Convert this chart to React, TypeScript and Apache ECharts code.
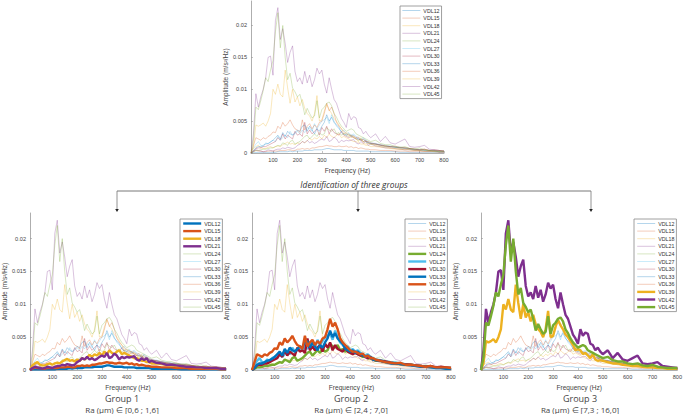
import React, { useEffect, useRef } from 'react';
import * as echarts from 'echarts';

// frequency grid (Hz): 10 Hz steps to 500, 20 Hz steps after
const freqs = [
  10, 20, 30, 40, 50, 60, 70, 80, 90, 100,
  110, 120, 130, 140, 150, 160, 170, 180, 190, 200,
  210, 220, 230, 240, 250, 260, 270, 280, 290, 300,
  310, 320, 330, 340, 350, 360, 370, 380, 390, 400,
  410, 420, 430, 440, 450, 460, 470, 480, 490, 500,
  520, 540, 560, 580, 600, 620, 640, 660, 680, 700, 720, 740, 760, 780, 800,
];

// amplitudes in 1e-4 m/s2/Hz
const vdl12 = [
  0, 1, 1, 1, 1, 1, 1, 1, 1, 1,
  1, 2, 2, 2, 2, 2, 3, 2, 3, 3,
  3, 3, 4, 4, 4, 4, 5, 5, 5, 5,
  6, 7, 7, 6, 5, 5, 5, 5, 4, 4,
  4, 4, 4, 3, 3, 3, 3, 3, 3, 2,
  2, 2, 2, 2, 2, 1, 1, 1, 1, 1, 1, 1, 1, 1, 1,
];
const vdl15 = [
  0, 2, 4, 3, 3, 2, 2, 3, 3, 3,
  3, 3, 4, 4, 4, 5, 5, 4, 4, 6,
  6, 7, 6, 7, 6, 8, 8, 9, 10, 10,
  11, 12, 11, 11, 10, 10, 11, 10, 10, 11,
  9, 10, 8, 9, 7, 8, 7, 6, 6, 5,
  5, 4, 4, 4, 3, 3, 3, 2, 2, 2, 2, 2, 2, 1, 1,
];
const vdl18 = [
  0, 7, 10, 12, 8, 7, 7, 9, 10, 8,
  10, 11, 10, 13, 15, 17, 14, 15, 13, 16,
  14, 18, 16, 19, 23, 20, 24, 22, 26, 22,
  28, 24, 30, 26, 24, 28, 30, 24, 26, 24,
  22, 20, 18, 18, 16, 14, 14, 12, 12, 10,
  10, 9, 8, 7, 6, 6, 5, 5, 4, 4, 3, 3, 3, 2, 2,
];
const vdl21 = [
  0, 3, 5, 4, 3, 2, 3, 5, 4, 3,
  5, 6, 6, 8, 7, 9, 8, 7, 8, 12,
  14, 18, 16, 20, 16, 18, 15, 17, 20, 22,
  20, 26, 18, 20, 25, 22, 16, 20, 18, 20,
  19, 20, 21, 16, 14, 18, 15, 18, 12, 14,
  11, 10, 8, 8, 7, 6, 5, 5, 4, 4, 3, 3, 3, 2, 2,
];
const vdl24 = [
  0, 2, 4, 4, 5, 6, 6, 7, 8, 8,
  10, 12, 11, 16, 14, 12, 18, 20, 14, 16,
  18, 22, 26, 28, 22, 26, 30, 26, 32, 28,
  30, 40, 36, 34, 38, 30, 32, 28, 30, 28,
  26, 28, 24, 22, 20, 22, 18, 18, 16, 14,
  14, 12, 11, 10, 9, 8, 8, 7, 6, 5, 5, 4, 4, 3, 3,
];
const vdl27 = [
  0, 8, 14, 18, 12, 10, 16, 14, 18, 20,
  18, 26, 20, 24, 28, 24, 34, 28, 30, 34,
  30, 36, 32, 40, 38, 34, 46, 38, 44, 50,
  52, 56, 46, 60, 50, 42, 38, 34, 36, 30,
  32, 28, 30, 26, 24, 22, 24, 20, 18, 16,
  15, 13, 12, 11, 10, 9, 8, 7, 6, 5, 5, 4, 4, 3, 3,
];
const vdl30 = [
  0, 3, 7, 8, 8, 10, 10, 12, 14, 16,
  18, 24, 20, 30, 22, 28, 25, 22, 34, 28,
  30, 26, 48, 30, 36, 30, 34, 38, 28, 40,
  34, 42, 30, 38, 32, 30, 28, 34, 28, 26,
  24, 26, 24, 22, 22, 20, 18, 20, 16, 15,
  14, 13, 11, 10, 9, 9, 8, 7, 6, 5, 6, 4, 5, 4, 3,
];
const vdl33 = [
  0, 3, 8, 10, 10, 12, 14, 15, 17, 20,
  24, 28, 22, 32, 26, 34, 30, 28, 32, 36,
  34, 42, 44, 34, 42, 36, 30, 38, 34, 42,
  48, 60, 50, 56, 48, 44, 40, 32, 30, 28,
  30, 26, 28, 24, 22, 20, 22, 18, 16, 15,
  14, 12, 10, 10, 9, 8, 7, 6, 5, 5, 4, 3, 3, 2, 2,
];
const vdl36 = [
  0, 12, 24, 22, 20, 24, 22, 26, 28, 33,
  32, 42, 38, 48, 42, 46, 52, 44, 38, 36,
  32, 52, 36, 42, 46, 38, 44, 40, 48, 50,
  62, 78, 66, 72, 62, 48, 42, 38, 34, 30,
  28, 28, 26, 24, 25, 20, 22, 18, 18, 16,
  14, 12, 11, 10, 11, 8, 8, 7, 6, 5, 6, 4, 4, 4, 3,
];
const vdl39 = [
  0, 10, 44, 42, 44, 47, 42, 50, 62, 100,
  92, 108, 92, 88, 130, 102, 78, 100, 80, 88,
  74, 84, 70, 62, 58, 50, 62, 90, 50, 52,
  66, 76, 68, 62, 54, 50, 44, 38, 30, 32,
  30, 24, 26, 22, 18, 24, 16, 14, 15, 14,
  12, 10, 10, 8, 7, 6, 6, 5, 4, 4, 3, 3, 2, 2, 2,
];
const vdl42 = [
  0, 30, 93, 72, 88, 100, 118, 150, 152, 122,
  208, 228, 178, 195, 172, 142, 158, 168, 128, 112,
  118, 108, 128, 110, 122, 104, 115, 133, 124, 130,
  108, 94, 118, 100, 84, 78, 66, 54, 48, 40,
  62, 52, 57, 55, 40, 38, 30, 34, 28, 24,
  30, 18, 26, 16, 14, 18, 22, 10, 9, 10, 12, 6, 5, 4, 3,
];
const vdl45 = [
  0, 20, 72, 68, 82, 98, 118, 112, 130, 145,
  190, 220, 165, 200, 150, 115, 125, 102, 96, 88,
  92, 78, 60, 70, 62, 55, 58, 82, 55, 68,
  72, 78, 80, 74, 62, 56, 48, 42, 38, 34,
  36, 38, 36, 30, 28, 26, 24, 22, 20, 18,
  20, 15, 13, 13, 10, 9, 10, 7, 6, 8, 5, 4, 3, 3, 3,
];

const names = ['VDL12', 'VDL15', 'VDL18', 'VDL21', 'VDL24', 'VDL27', 'VDL30', 'VDL33', 'VDL36', 'VDL39', 'VDL42', 'VDL45'];
const values = [vdl12, vdl15, vdl18, vdl21, vdl24, vdl27, vdl30, vdl33, vdl36, vdl39, vdl42, vdl45];
const colors = ['#0072BD', '#D95319', '#EDB120', '#7E2F8E', '#77AC30', '#4DBEEE', '#A2142F', '#0072BD', '#D95319', '#EDB120', '#7E2F8E', '#77AC30'];

const xTicks = [100, 200, 300, 400, 500, 600, 700, 800];
const yTicks = [0, 0.005, 0.01, 0.015, 0.02];

// one panel per group, bold = curves belonging to that group
const panels = [
  { left: 251, top: 1, width: 193, height: 152, yMax: 0.02384, legendLeft: 400, legendTop: 6, bold: [] as string[] },
  { left: 27, top: 213, width: 199, height: 157, yMax: 0.0239, legendLeft: 180, legendTop: 219, bold: ['VDL12', 'VDL15', 'VDL18', 'VDL21'] },
  { left: 252, top: 213, width: 199, height: 157, yMax: 0.0239, legendLeft: 405, legendTop: 219, bold: ['VDL24', 'VDL27', 'VDL30', 'VDL33', 'VDL36'] },
  { left: 481, top: 213, width: 198, height: 157, yMax: 0.0239, legendLeft: 634, legendTop: 219, bold: ['VDL39', 'VDL42', 'VDL45'] },
];

const groupTitles = [
  { x: 122, title: 'Group 1', range: 'Ra (µm) ∈ [0,6 ; 1,6]' },
  { x: 351, title: 'Group 2', range: 'Ra (µm) ∈ [2,4 ; 7,0]' },
  { x: 580, title: 'Group 3', range: 'Ra (µm) ∈ [7,3 ; 16,0]' },
];

const arrowXs = [117, 358, 591];
const font = '"Liberation Sans", Arial, sans-serif';
const noteFont = '"Open Sans", sans-serif';

export default function App() {
  const chartRef = useRef<HTMLDivElement>(null);

  useEffect(() => {
    if (!chartRef.current) return;
    const myChart = echarts.init(chartRef.current, undefined, { renderer: 'svg' });

    const lineStyleFor = (panelIndex: number, name: string, i: number) => {
      const isBold = panels[panelIndex].bold.includes(name);
      return {
        color: colors[i],
        width: isBold ? 2.4 : 0.7,
        opacity: isBold ? 1 : 0.42,
      };
    };

    const series: any[] = [];
    panels.forEach((p, pi) => {
      names.forEach((name, i) => {
        series.push({
          name,
          type: 'line',
          xAxisIndex: pi,
          yAxisIndex: pi,
          symbol: 'none',
          z: p.bold.includes(name) ? 3 : 2,
          lineStyle: lineStyleFor(pi, name, i),
          data: freqs.map((f, k) => [f, values[i][k] / 10000]),
        });
      });
    });

    const arrows: any[] = [
      { type: 'line', shape: { x1: arrowXs[0], y1: 191, x2: arrowXs[2], y2: 191 }, style: { stroke: '#555', lineWidth: 0.8 } },
    ];
    arrowXs.forEach(x => {
      arrows.push({ type: 'line', shape: { x1: x, y1: 191, x2: x, y2: 209 }, style: { stroke: '#777', lineWidth: 0.8 } });
      arrows.push({ type: 'polygon', shape: { points: [[x - 1.8, 209], [x + 1.8, 209], [x, 212]] }, style: { fill: '#222' } });
    });

    const titles: any[] = [];
    groupTitles.forEach(g => {
      titles.push({ type: 'text', x: g.x, y: 398, style: { text: g.title, font: `9px ${noteFont}`, fill: '#444', textAlign: 'center', textVerticalAlign: 'middle' } });
      titles.push({ type: 'text', x: g.x, y: 409, style: { text: g.range, font: `8px ${noteFont}`, fill: '#444', textAlign: 'center', textVerticalAlign: 'middle' } });
    });
    titles.push({ type: 'text', x: 354, y: 184, style: { text: 'Identification of three groups', font: `italic 8.4px ${noteFont}`, fill: '#333', textAlign: 'center', textVerticalAlign: 'middle' } });

    const option = {
      animation: false,
      backgroundColor: '#fff',
      grid: panels.map(p => ({ left: p.left, top: p.top, width: p.width, height: p.height, containLabel: false })),
      xAxis: panels.map((p, pi) => ({
        type: 'value',
        gridIndex: pi,
        min: 10,
        max: 800,
        name: 'Frequency (Hz)',
        nameLocation: 'middle',
        nameGap: 14,
        nameTextStyle: { fontFamily: font, fontSize: 6.6, color: '#444' },
        splitLine: { show: false },
        axisLine: { onZero: false, lineStyle: { color: '#999', width: 0.8 } },
        axisTick: { inside: true, length: 2, customValues: xTicks, lineStyle: { color: '#999', width: 0.6 } },
        axisLabel: { customValues: xTicks, fontFamily: font, fontSize: 5.6, color: '#444', margin: 4, showMinLabel: true, showMaxLabel: true },
      })),
      yAxis: panels.map((p, pi) => ({
        type: 'value',
        gridIndex: pi,
        min: 0,
        max: p.yMax,
        name: 'Amplitude (m/s²/Hz)',
        nameLocation: 'middle',
        nameGap: 22,
        nameTextStyle: { fontFamily: font, fontSize: 6.5, color: '#444' },
        splitLine: { show: false },
        axisLine: { lineStyle: { color: '#999', width: 0.8 } },
        axisTick: { inside: true, length: 2, customValues: yTicks, lineStyle: { color: '#999', width: 0.6 } },
        axisLabel: { customValues: yTicks, fontFamily: font, fontSize: 5.6, color: '#444', margin: 4, formatter: (v: number) => String(v) },
      })),
      legend: panels.map((p, pi) => ({
        orient: 'vertical',
        left: p.legendLeft,
        top: p.legendTop,
        padding: [1, 2, 1, 2],
        itemWidth: 18,
        itemHeight: 6,
        itemGap: 0.6,
        selectedMode: false,
        borderColor: '#888',
        borderWidth: 0.8,
        backgroundColor: '#fff',
        textStyle: { fontFamily: font, fontSize: 5.3, color: '#333', lineHeight: 7, padding: [0, 0, 0, -2] },
        data: names.map((name, i) => ({
          name,
          lineStyle: lineStyleFor(pi, name, i),
          itemStyle: { color: 'transparent', opacity: 0, borderWidth: 0 },
        })),
      })),
      graphic: [...arrows, ...titles],
      series,
    };

    myChart.setOption(option);

    return () => {
      myChart.dispose();
    };
  }, []);

  return <div ref={chartRef} style={{ position: 'absolute', left: 0, top: 0, width: 685, height: 414 }} />;
}
